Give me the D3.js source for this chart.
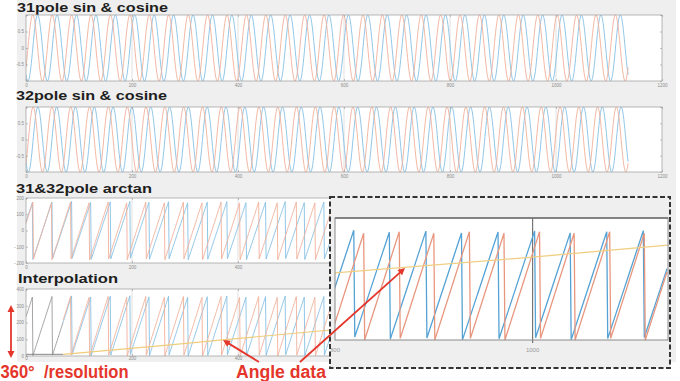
<!DOCTYPE html>
<html>
<head>
<meta charset="utf-8">
<script src="https://cdn.jsdelivr.net/npm/d3@7"></script>
<style>
  body { margin: 0; background: #fff; }
  svg { display: block; }
  .tick text { font-family: "Liberation Sans", Arial, sans-serif; fill: #8c8c8c; }
</style>
</head>
<body>
<div id="chart"></div>
<script>
// values
const sampleEnd = 1136;                 // last sample on the x axis
const poles = [31, 32];                 // blue series, orange series
const resetPhase = [0.35, 0.38];        // where each sawtooth drops, in cycles
const grayEnd = 70;                     // first stretch of the interpolation is grey
const angleX = [0, 70, 272, 366, 800, 962, 1000, 1137];   // "Angle data"
const angleY = [10, 10, 66, 95, 220, 262, 272, 311];
const xTicks = [0, 200, 400, 600, 800, 1000, 1200];
const sinTicks = [-1, -0.5, 0, 0.5, 1];
const sinLabels = ["", "-0.5", "0", "0.5", ""];
const atanTicks = [-200, -100, 0, 100, 200];
const interpTicks = [0, 100, 200, 300, 400];
const insetTicks = [800, 1000];
const titles = ["31pole sin & cosine", "32pole sin & cosine", "31&32pole arctan", "Interpolation"];

const blue = "#86bfe4", orange = "#f1b09a", gray = "#9a9a9a", yellow = "#efcd7c";
const red = "#e4362b";

const width = 680, height = 381;
const svg = d3.select("#chart").append("svg")
    .attr("width", width)
    .attr("height", height);

// figure background
svg.append("rect").attr("x", 17).attr("y", 0).attr("width", 659).attr("height", 362).attr("fill", "#efefef");

const xs = d3.range(0, sampleEnd + 1);

// electrical angle of a pole pair count, 0..360
function elec(i, x) {
  const c = x * poles[i] / sampleEnd - resetPhase[i];
  return (c - Math.floor(c)) * 360;
}
const rad = Math.PI / 180;
const sinFmt = (d, i) => sinLabels[i];

const panels = [
  { title: titles[0], tx: 17, ty: 11.5, tw: 151, top: 15, bottom: 81, domain: [-1, 1], ticks: sinTicks, fmt: sinFmt, pad: 2.5,
    series: [
      { color: blue, pts: xs.map(x => [x, Math.sin(elec(0, x) * rad)]) },
      { color: orange, pts: xs.map(x => [x, Math.cos(elec(0, x) * rad)]) }
    ] },
  { title: titles[1], tx: 16, ty: 100, tw: 151, top: 107, bottom: 172, domain: [-1, 1], ticks: sinTicks, fmt: sinFmt, pad: 2.5,
    series: [
      { color: blue, pts: xs.map(x => [x, Math.sin(elec(1, x) * rad)]) },
      { color: orange, pts: xs.map(x => [x, Math.cos(elec(1, x) * rad)]) }
    ] },
  { title: titles[2], tx: 16, ty: 193, tw: 136, top: 198, bottom: 263, domain: [-200, 200], ticks: atanTicks, pad: 2.5,
    series: [
      { color: blue, pts: xs.map(x => [x, elec(0, x) - 180]) },
      { color: orange, pts: xs.map(x => [x, elec(1, x) - 180]) }
    ] },
  { title: titles[3], tx: 18, ty: 283, tw: 100, top: 289, bottom: 356, domain: [0, 400], ticks: interpTicks, pad: 1.2,
    series: [
      { color: gray, pts: xs.filter(x => x <= grayEnd).map(x => [x, elec(0, x)]) },
      { color: blue, pts: xs.filter(x => x >= grayEnd).map(x => [x, elec(0, x)]) },
      { color: orange, pts: xs.filter(x => x >= grayEnd).map(x => [x, elec(1, x)]) },
      { color: "#777", pts: angleX.map((x, i) => [x, angleY[i]]).filter(d => d[0] <= grayEnd) },
      { color: yellow, w: 1.2, pts: angleX.map((x, i) => [x, angleY[i]]).filter(d => d[0] >= grayEnd) }
    ] }
];

const x = d3.scaleLinear().domain([0, 1200]).range([26, 662]);

panels.forEach((p, k) => {
  const y = d3.scaleLinear().domain(p.domain).range([p.bottom, p.top]);
  const g = svg.append("g");

  g.append("text")
    .attr("x", p.tx).attr("y", p.ty)
    .attr("textLength", p.tw).attr("lengthAdjust", "spacingAndGlyphs")
    .style("font-family", "'Liberation Sans', Arial, sans-serif")
    .style("font-weight", "bold").style("font-size", k === 0 ? "13px" : "13.5px")
    .attr("fill", "#1e1e1e")
    .text(p.title);

  g.append("rect")
    .attr("x", x(0)).attr("y", p.top)
    .attr("width", x(1200) - x(0)).attr("height", p.bottom - p.top)
    .attr("fill", "#fff");

  // light grid at the x ticks
  g.selectAll(".grid").data(xTicks.slice(1, -1)).join("line")
    .attr("x1", d => x(d)).attr("x2", d => x(d))
    .attr("y1", p.top).attr("y2", p.bottom)
    .attr("stroke", "#cfcfcf").attr("stroke-width", 0.6);

  svg.append("clipPath").attr("id", "clip" + k).append("rect")
    .attr("x", x(0)).attr("y", p.top - 0.5)
    .attr("width", x(1200) - x(0)).attr("height", p.bottom - p.top + 1);

  const line = d3.line().x(d => x(d[0])).y(d => y(d[1]));
  p.series.forEach(s => {
    g.append("path").datum(s.pts)
      .attr("clip-path", `url(#clip${k})`)
      .attr("d", line)
      .attr("fill", "none")
      .attr("stroke", s.color)
      .attr("stroke-width", s.w || 0.9);
  });

  g.append("rect")
    .attr("x", x(0)).attr("y", p.top)
    .attr("width", x(1200) - x(0)).attr("height", p.bottom - p.top)
    .attr("fill", "none").attr("stroke", "#a6a6a6").attr("stroke-width", 0.8);

  const fmt = d3.format("");
  const ax = [
    g.append("g").attr("transform", `translate(0,${p.bottom})`)
      .call(d3.axisBottom(x).tickValues(xTicks).tickFormat(fmt).tickSizeInner(-2).tickSizeOuter(0).tickPadding(p.pad)),
    g.append("g").attr("transform", `translate(0,${p.top})`)
      .call(d3.axisTop(x).tickValues(xTicks).tickFormat("").tickSizeInner(-2).tickSizeOuter(0)),
    g.append("g").attr("transform", `translate(${x(0)},0)`)
      .call(d3.axisLeft(y).tickValues(p.ticks).tickFormat(p.fmt || fmt).tickSizeInner(-2).tickSizeOuter(0).tickPadding(2)),
    g.append("g").attr("transform", `translate(${x(1200)},0)`)
      .call(d3.axisRight(y).tickValues(p.ticks).tickFormat("").tickSizeInner(-2).tickSizeOuter(0))
  ];
  ax.forEach(a => {
    a.select(".domain").remove();
    a.selectAll("line").attr("stroke", "#999").attr("stroke-width", 0.6);
    a.selectAll("text").style("font-size", "4.5px");
  });
});

// zoomed inset inside the dashed box
const ix = d3.scaleLinear().domain([800, 1137]).range([335, 668]);
const iy = d3.scaleLinear().domain([0, 400]).range([340, 218]);
const inset = svg.append("g");

svg.append("clipPath").attr("id", "boxclip").append("rect")
  .attr("x", 331).attr("y", 198).attr("width", 338).attr("height", 169);
svg.append("clipPath").attr("id", "insetclip").append("rect")
  .attr("x", 335).attr("y", 217).attr("width", 333).attr("height", 124);

inset.append("rect").attr("x", 330).attr("y", 197).attr("width", 340).attr("height", 171).attr("fill", "#efefef");
inset.append("rect").attr("x", 335).attr("y", 218).attr("width", 333).attr("height", 122).attr("fill", "#fff");

inset.selectAll(".igrid").data([1000]).join("line")
  .attr("x1", d => ix(d)).attr("x2", d => ix(d))
  .attr("y1", 218).attr("y2", 343)
  .attr("stroke", "#6a6a6a").attr("stroke-width", 1.1);

const iline = d3.line().x(d => ix(d[0])).y(d => iy(d[1]));
const ixs = xs.filter(v => v >= 798);
[
  { color: "#55a2d4", pts: ixs.map(v => [v, elec(0, v)]) },
  { color: "#e8977f", pts: ixs.map(v => [v, elec(1, v)]) },
  { color: "#f0cf83", pts: angleX.map((v, i) => [v, angleY[i]]) }
].forEach(s => {
  inset.append("path").datum(s.pts)
    .attr("clip-path", "url(#insetclip)")
    .attr("d", iline)
    .attr("fill", "none")
    .attr("stroke", s.color)
    .attr("stroke-width", 1.3);
});

inset.append("rect").attr("x", 335).attr("y", 218).attr("width", 333).attr("height", 122)
  .attr("fill", "none").attr("stroke", "#8a8a8a").attr("stroke-width", 1);
inset.append("line").attr("x1", 335).attr("x2", 668).attr("y1", 218).attr("y2", 218)
  .attr("stroke", "#6f6f6f").attr("stroke-width", 1.4);

inset.append("g").attr("clip-path", "url(#boxclip)")
  .selectAll("text").data(insetTicks).join("text")
  .attr("x", d => ix(d)).attr("y", 352)
  .attr("text-anchor", "middle")
  .style("font-family", "'Liberation Sans', Arial, sans-serif")
  .style("font-size", "6px").attr("fill", "#9a9a9a")
  .text(d => d);

inset.append("rect").attr("x", 330).attr("y", 197).attr("width", 340).attr("height", 171)
  .attr("fill", "none").attr("stroke", "#333").attr("stroke-width", 2)
  .attr("stroke-dasharray", "5,2.5");

// red annotations
function arrowHead(x1, y1, x2, y2, len, half) {
  const a = Math.atan2(y2 - y1, x2 - x1);
  const bx = x2 - len * Math.cos(a), by = y2 - len * Math.sin(a);
  const px = -Math.sin(a) * half, py = Math.cos(a) * half;
  return `M${x2},${y2}L${bx + px},${by + py}L${bx - px},${by - py}Z`;
}
function arrow(x1, y1, x2, y2, both) {
  const a = Math.atan2(y2 - y1, x2 - x1);
  svg.append("line")
    .attr("x1", both ? x1 + 5 * Math.cos(a) : x1).attr("y1", both ? y1 + 5 * Math.sin(a) : y1)
    .attr("x2", x2 - 5 * Math.cos(a)).attr("y2", y2 - 5 * Math.sin(a))
    .attr("stroke", red).attr("stroke-width", 1.8);
  svg.append("path").attr("d", arrowHead(x1, y1, x2, y2, 7, 3.5)).attr("fill", red);
  if (both) svg.append("path").attr("d", arrowHead(x2, y2, x1, y1, 7, 3.5)).attr("fill", red);
}
arrow(11, 305, 11, 358, true);
arrow(259, 362, 223, 340, false);
arrow(300, 362, 405, 268, false);

svg.append("text")
  .attr("x", 0.5).attr("y", 378)
  .attr("textLength", 128).attr("lengthAdjust", "spacingAndGlyphs")
  .style("font-family", "'Liberation Sans', Arial, sans-serif")
  .style("font-weight", "bold").style("font-size", "17.5px")
  .style("white-space", "pre")
  .attr("fill", red)
  .text("360°  /resolution");

svg.append("text")
  .attr("x", 236).attr("y", 378)
  .attr("textLength", 90).attr("lengthAdjust", "spacingAndGlyphs")
  .style("font-family", "'Liberation Sans', Arial, sans-serif")
  .style("font-weight", "bold").style("font-size", "17.5px")
  .attr("fill", red)
  .text("Angle data");
</script>
</body>
</html>
